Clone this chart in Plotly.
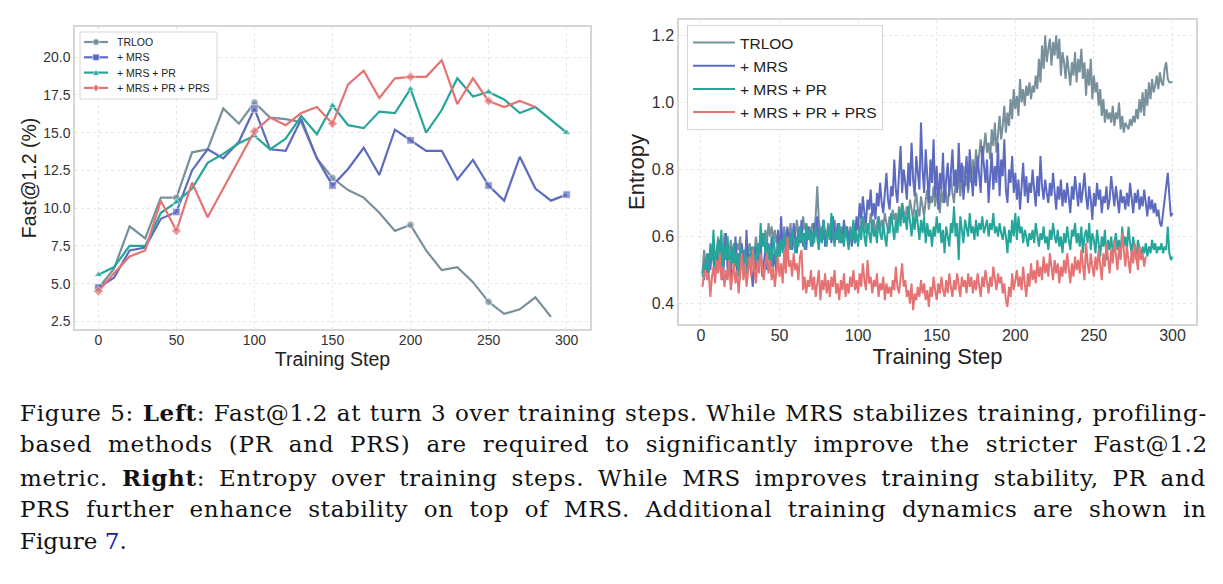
import plotly.graph_objects as go

# ---------------- Left: Fast@1.2 ----------------
steps_left = list(range(0, 301, 10))
fast_trloo = [4.7, 6.0, 8.8, 8.0, 10.7, 10.7, 13.7, 13.9, 16.6, 15.6, 17.0, 16.0, 15.9, 15.7,
              13.3, 12.0, 11.2, 10.7, 9.7, 8.5, 8.9, 7.2, 5.9, 6.1, 5.1, 3.8, 3.0, 3.3, 4.1, 2.8]
fast_mrs = [4.75, 5.4, 7.2, 7.4, 9.3, 9.75, 12.5, 13.9, 13.3, 14.4, 16.6, 13.9, 13.8, 15.9,
            13.3, 11.5, 12.6, 14.0, 12.2, 15.2, 14.5, 13.8, 13.8, 11.9, 13.2, 11.5, 10.5, 13.4,
            11.3, 10.5, 10.9]
fast_mrs_pr = [5.6, 6.1, 7.5, 7.5, 9.7, 10.4, 11.3, 13.0, 13.6, 14.3, 14.8, 13.9, 14.6, 16.1,
               14.9, 16.8, 15.5, 15.3, 16.4, 16.3, 17.9, 15.0, 16.5, 18.6, 17.4, 17.7, 17.2,
               16.3, 16.7, 15.85, 15.0]
fast_mrs_pr_prs = [4.5, 5.7, 6.8, 7.2, 10.5, 8.5, 11.7, 9.4, 11.3, 13.2, 15.1, 16.0, 15.5, 16.3,
                   16.7, 15.6, 18.2, 19.1, 17.3, 18.6, 18.7, 18.7, 19.8, 16.9, 18.6, 17.1, 16.7,
                   17.1, 16.7]

# ---------------- Right: Entropy ----------------
ent_trloo = [
    0.49, 0.56, 0.52, 0.54, 0.50, 0.55, 0.53, 0.58, 0.52, 0.56,
    0.60, 0.54, 0.58, 0.55, 0.61, 0.53, 0.57, 0.55, 0.59, 0.54,
    0.57, 0.52, 0.58, 0.56, 0.60, 0.53, 0.56, 0.54, 0.59, 0.55,
    0.58, 0.54, 0.57, 0.55, 0.60, 0.56, 0.58, 0.55, 0.61, 0.57,
    0.62, 0.58, 0.64, 0.60, 0.63, 0.59, 0.62, 0.58, 0.61, 0.57,
    0.60, 0.58, 0.63, 0.59, 0.62, 0.60, 0.64, 0.58, 0.62, 0.60,
    0.65, 0.61, 0.63, 0.59, 0.66, 0.62, 0.64, 0.60, 0.63, 0.61,
    0.64, 0.62, 0.66, 0.75, 0.65, 0.61, 0.63, 0.59, 0.62, 0.60,
    0.64, 0.61, 0.63, 0.59, 0.65, 0.60, 0.62, 0.58, 0.63, 0.61,
    0.64, 0.60, 0.62, 0.59, 0.63, 0.61, 0.60, 0.58, 0.62, 0.64,
    0.60, 0.65, 0.62, 0.66, 0.61, 0.64, 0.62, 0.67, 0.63, 0.65,
    0.61, 0.64, 0.66, 0.62, 0.65, 0.63, 0.67, 0.64, 0.62, 0.66,
    0.64, 0.68, 0.65, 0.67, 0.63, 0.69, 0.66, 0.70, 0.67, 0.65,
    0.69, 0.66, 0.71, 0.68, 0.65, 0.70, 0.73, 0.68, 0.66, 0.72,
    0.69, 0.66, 0.71, 0.74, 0.68, 0.72, 0.70, 0.75, 0.69, 0.73,
    0.71, 0.67, 0.74, 0.70, 0.76, 0.72, 0.69, 0.75, 0.78, 0.73,
    0.70, 0.76, 0.74, 0.79, 0.72, 0.77, 0.81, 0.75, 0.78, 0.73,
    0.80, 0.76, 0.83, 0.78, 0.86, 0.80, 0.84, 0.89, 0.82, 0.87,
    0.91, 0.85, 0.88, 0.83, 0.92, 0.87, 0.94, 0.85, 0.90, 0.96,
    0.89, 0.93, 0.99, 0.91, 0.97, 0.93, 1.01, 0.95, 1.04, 0.98,
    1.02, 0.96, 1.07, 1.00, 1.04, 0.99, 1.05, 1.02, 1.06, 1.01,
    1.05, 1.03, 1.08, 1.04, 1.13, 1.06, 1.17, 1.10, 1.20, 1.12,
    1.16, 1.19, 1.11, 1.18, 1.14, 1.20, 1.13, 1.19, 1.08, 1.15,
    1.12, 1.07, 1.14, 1.10, 1.05, 1.12, 1.08, 1.15, 1.06, 1.13,
    1.09, 1.16, 1.07, 1.12, 1.02, 1.10, 1.05, 1.13, 1.01, 1.08,
    1.03, 1.06, 0.99, 1.04, 0.96, 1.01, 0.94, 0.98, 0.95, 0.97,
    0.94, 0.99, 0.93, 0.97, 0.95, 1.00, 0.92, 0.96, 0.91, 0.94,
    0.93, 0.92, 0.95, 0.93, 0.96, 0.94, 0.98, 0.95, 1.01, 0.97,
    1.03, 0.96, 1.04, 0.99, 1.06, 1.01, 1.07, 1.03, 1.05, 1.08,
    1.04, 1.09, 1.06, 1.05, 1.10, 1.12, 1.07, 1.06, 1.06, 1.06]
ent_mrs = [
    0.50, 0.47, 0.53, 0.49, 0.55, 0.50, 0.57, 0.52, 0.48, 0.56,
    0.51, 0.59, 0.53, 0.47, 0.55, 0.61, 0.50, 0.54, 0.48, 0.57,
    0.52, 0.60, 0.49, 0.55, 0.51, 0.58, 0.53, 0.48, 0.62, 0.51,
    0.55, 0.49, 0.45, 0.53, 0.57, 0.50, 0.54, 0.59, 0.48, 0.52,
    0.56, 0.50, 0.58, 0.53, 0.60, 0.51, 0.55, 0.49, 0.62, 0.54,
    0.66, 0.57, 0.60, 0.55, 0.63, 0.58, 0.61, 0.56, 0.64, 0.59,
    0.55, 0.62, 0.58, 0.65, 0.57, 0.61, 0.56, 0.63, 0.59, 0.62,
    0.57, 0.64, 0.60, 0.66, 0.58, 0.62, 0.59, 0.65, 0.57, 0.61,
    0.60, 0.63, 0.58, 0.66, 0.61, 0.59, 0.64, 0.60, 0.62, 0.58,
    0.65, 0.60, 0.63, 0.59, 0.61, 0.57, 0.64, 0.60, 0.66, 0.62,
    0.70, 0.65, 0.72, 0.67, 0.64, 0.71, 0.68, 0.74, 0.66, 0.70,
    0.65, 0.73, 0.69, 0.76, 0.70, 0.67, 0.74, 0.79, 0.71, 0.68,
    0.75, 0.72, 0.83, 0.74, 0.70, 0.78, 0.87, 0.73, 0.80, 0.76,
    0.71, 0.82, 0.75, 0.88, 0.77, 0.72, 0.84, 0.79, 0.74, 0.94,
    0.80, 0.73, 0.86, 0.78, 0.70, 0.83, 0.76, 0.89, 0.72, 0.81,
    0.68, 0.79, 0.74, 0.85, 0.70, 0.77, 0.82, 0.72, 0.78, 0.86,
    0.75, 0.80, 0.73, 0.88, 0.76, 0.82, 0.71, 0.79, 0.84, 0.74,
    0.86, 0.78, 0.72, 0.81, 0.75, 0.84, 0.79, 0.73, 0.87, 0.80,
    0.76, 0.83, 0.70, 0.78, 0.85, 0.74, 0.81, 0.76, 0.88, 0.72,
    0.83, 0.78, 0.89, 0.74, 0.70, 0.80, 0.76, 0.84, 0.73, 0.79,
    0.71, 0.77, 0.68, 0.75, 0.82, 0.72, 0.78, 0.70, 0.76, 0.73,
    0.80, 0.74, 0.69, 0.78, 0.72, 0.84, 0.75, 0.71, 0.77, 0.73,
    0.70, 0.76, 0.72, 0.79, 0.74, 0.68, 0.75, 0.71, 0.77, 0.69,
    0.74, 0.70, 0.76, 0.72, 0.67, 0.75, 0.71, 0.78, 0.73, 0.69,
    0.76, 0.70, 0.74, 0.79, 0.72, 0.68, 0.75, 0.71, 0.65, 0.73,
    0.69, 0.76, 0.71, 0.74, 0.67, 0.72, 0.70, 0.75, 0.68, 0.71,
    0.78, 0.73, 0.69, 0.75, 0.71, 0.67, 0.74, 0.70, 0.72, 0.68,
    0.73, 0.69, 0.76, 0.71, 0.67, 0.73, 0.70, 0.74, 0.68, 0.72,
    0.69, 0.74, 0.70, 0.66, 0.72, 0.68, 0.71, 0.67, 0.70, 0.66,
    0.68, 0.64, 0.63, 0.67, 0.71, 0.76, 0.79, 0.72, 0.66, 0.67]
ent_mrs_pr = [
    0.48, 0.52, 0.50, 0.55, 0.49, 0.58, 0.53, 0.62, 0.51, 0.56,
    0.59, 0.52, 0.62, 0.50, 0.57, 0.53, 0.60, 0.49, 0.56, 0.52,
    0.58, 0.51, 0.55, 0.48, 0.57, 0.53, 0.50, 0.56, 0.47, 0.54,
    0.51, 0.57, 0.52, 0.55, 0.50, 0.58, 0.54, 0.64, 0.57, 0.61,
    0.55, 0.59, 0.53, 0.57, 0.51, 0.60, 0.55, 0.52, 0.58, 0.54,
    0.59, 0.55, 0.61, 0.57, 0.53, 0.60, 0.56, 0.62, 0.58, 0.55,
    0.60, 0.57, 0.63, 0.58, 0.61, 0.56, 0.64, 0.59, 0.62, 0.57,
    0.61, 0.58, 0.63, 0.60, 0.56, 0.62, 0.58, 0.65, 0.60, 0.57,
    0.63, 0.59, 0.67, 0.61, 0.57, 0.62, 0.59, 0.64, 0.58, 0.61,
    0.57, 0.63, 0.60, 0.56, 0.62, 0.59, 0.65, 0.58, 0.61, 0.57,
    0.63, 0.59, 0.66, 0.60, 0.57, 0.64, 0.61, 0.58, 0.65, 0.60,
    0.62, 0.58, 0.66, 0.61, 0.59, 0.64, 0.60, 0.57, 0.63, 0.61,
    0.67, 0.62, 0.59, 0.65, 0.61, 0.68, 0.63, 0.70, 0.64, 0.66,
    0.62, 0.69, 0.64, 0.60, 0.66, 0.62, 0.68, 0.63, 0.59, 0.65,
    0.61, 0.66, 0.58, 0.64, 0.60, 0.62, 0.57, 0.63, 0.60, 0.66,
    0.61, 0.64, 0.58, 0.62, 0.55, 0.63, 0.60, 0.57, 0.64, 0.61,
    0.69, 0.60, 0.64, 0.53, 0.66, 0.61, 0.58, 0.65, 0.62, 0.60,
    0.67, 0.61, 0.63, 0.59, 0.65, 0.60, 0.64, 0.62, 0.66, 0.61,
    0.63, 0.65, 0.60, 0.64, 0.62, 0.67, 0.61, 0.63, 0.60, 0.64,
    0.61, 0.59, 0.63, 0.60, 0.55, 0.62, 0.58, 0.65, 0.60, 0.67,
    0.59, 0.66, 0.61, 0.63, 0.58, 0.62, 0.60, 0.57, 0.61, 0.59,
    0.62, 0.58, 0.64, 0.60, 0.57, 0.61, 0.59, 0.63, 0.58, 0.60,
    0.56, 0.62, 0.59, 0.64, 0.60, 0.58, 0.62, 0.57, 0.60, 0.55,
    0.61, 0.58, 0.63, 0.59, 0.56, 0.62, 0.60, 0.64, 0.58, 0.61,
    0.57, 0.63, 0.55, 0.60, 0.62, 0.58, 0.64, 0.56, 0.61, 0.59,
    0.55, 0.62, 0.58, 0.54, 0.60, 0.57, 0.62, 0.53, 0.59, 0.56,
    0.60, 0.55, 0.58, 0.61, 0.56, 0.59, 0.54, 0.63, 0.57, 0.60,
    0.56, 0.63, 0.58, 0.55, 0.60, 0.57, 0.53, 0.59, 0.56, 0.54,
    0.57, 0.55, 0.58, 0.54, 0.57, 0.55, 0.59, 0.56, 0.58, 0.55,
    0.57, 0.56, 0.58, 0.55, 0.57, 0.56, 0.63, 0.55, 0.53, 0.54]
ent_mrs_pr_prs = [
    0.45, 0.49, 0.50, 0.47, 0.49, 0.42, 0.48, 0.51, 0.46, 0.53,
    0.49, 0.55, 0.47, 0.51, 0.45, 0.50, 0.47, 0.53, 0.44, 0.49,
    0.52, 0.46, 0.50, 0.43, 0.48, 0.55, 0.47, 0.52, 0.45, 0.50,
    0.54, 0.48, 0.56, 0.50, 0.46, 0.53, 0.49, 0.55, 0.51, 0.47,
    0.52, 0.55, 0.49, 0.53, 0.47, 0.51, 0.45, 0.50, 0.54, 0.48,
    0.52, 0.46, 0.56, 0.49, 0.60, 0.51, 0.53, 0.48, 0.55, 0.50,
    0.52, 0.47, 0.54, 0.56, 0.44, 0.48, 0.43, 0.47, 0.45, 0.50,
    0.44, 0.48, 0.42, 0.46, 0.50, 0.41, 0.47, 0.44, 0.49, 0.43,
    0.47, 0.42, 0.48, 0.45, 0.50, 0.43, 0.46, 0.41, 0.47, 0.44,
    0.49, 0.42, 0.46, 0.43, 0.48, 0.45, 0.50, 0.44, 0.47, 0.43,
    0.49, 0.45, 0.52, 0.47, 0.44, 0.53, 0.46, 0.48, 0.43, 0.47,
    0.45, 0.49, 0.42, 0.46, 0.44, 0.48, 0.41, 0.46, 0.43, 0.45,
    0.42, 0.47, 0.44, 0.51, 0.45, 0.43, 0.48, 0.52, 0.45, 0.47,
    0.42, 0.44, 0.40, 0.46, 0.38, 0.43, 0.41, 0.45, 0.42, 0.47,
    0.43, 0.46, 0.41, 0.44, 0.39, 0.45, 0.42, 0.48, 0.44, 0.41,
    0.46, 0.43, 0.48, 0.44, 0.42, 0.47, 0.43, 0.49, 0.45, 0.42,
    0.47, 0.44, 0.49, 0.46, 0.42, 0.48, 0.45, 0.47, 0.43, 0.49,
    0.45, 0.48, 0.43, 0.47, 0.44, 0.49, 0.46, 0.42, 0.48, 0.45,
    0.50, 0.46, 0.43, 0.48, 0.45, 0.51, 0.47, 0.44, 0.49, 0.46,
    0.48, 0.43, 0.46, 0.41, 0.39, 0.45, 0.42, 0.49, 0.44, 0.47,
    0.50, 0.45, 0.48, 0.44, 0.51, 0.46, 0.42, 0.49, 0.45, 0.52,
    0.47, 0.50, 0.46, 0.53, 0.48, 0.51, 0.47, 0.54, 0.49, 0.52,
    0.48, 0.55, 0.50, 0.47, 0.53, 0.49, 0.52, 0.46, 0.51, 0.48,
    0.53, 0.49, 0.55, 0.50, 0.46, 0.52, 0.48, 0.54, 0.50, 0.53,
    0.49, 0.56, 0.51, 0.47, 0.58, 0.52, 0.49, 0.55, 0.51, 0.48,
    0.54, 0.50, 0.56, 0.52, 0.47, 0.55, 0.51, 0.58, 0.53, 0.49,
    0.56, 0.52, 0.59, 0.54, 0.50, 0.57, 0.53, 0.61, 0.55, 0.51,
    0.57, 0.53, 0.49, 0.56, 0.52, 0.58, 0.54, 0.50, 0.57, 0.53,
    0.55, 0.51, 0.54]

series_names = ["TRLOO", "+ MRS", "+ MRS + PR", "+ MRS + PR + PRS"]
colors = ["#78909C", "#5C6BC0", "#26A69A", "#E57373"]
symbols = ["circle", "square", "triangle-up", "diamond"]
marker_steps = [0, 50, 100, 150, 200, 250, 300]

caption_lines = [
    "Figure 5: <b>Left</b>: Fast@1.2 at turn 3 over training steps. While MRS stabilizes training, profiling-",
    "based methods (PR and PRS) are required to significantly improve the stricter Fast@1.2",
    "metric. <b>Right</b>: Entropy over training steps. While MRS improves training stability, PR and",
    "PRS further enhance stability on top of MRS. Additional training dynamics are shown in",
    "Figure <span style='color:#1a1aa6'>7</span>.",
]
# justification (word spacing in px) per caption line
caption_word_spacing = [0.6, 8.0, 5.8, 7.5, 0]

W, H = 1223, 584
def px_x(p):
    return p / W
def px_y(p):
    return 1 - p / H

fig = go.Figure()

left_series = [fast_trloo, fast_mrs, fast_mrs_pr, fast_mrs_pr_prs]
for name, vals, col, sym in zip(series_names, left_series, colors, symbols):
    xs = steps_left[:len(vals)]
    sizes = [7.5 if s in marker_steps else 0 for s in xs]
    fig.add_trace(go.Scatter(
        x=xs, y=vals, mode="lines+markers", name=name, showlegend=False,
        line=dict(color=col, width=2.2),
        marker=dict(symbol=sym, size=sizes, color=col, line=dict(color="white", width=0.8)),
        xaxis="x", yaxis="y"))

right_series = [ent_trloo, ent_mrs, ent_mrs_pr, ent_mrs_pr_prs]
for name, vals, col in zip(series_names, right_series, colors):
    xs = list(range(1, len(vals) + 1))
    fig.add_trace(go.Scatter(
        x=xs, y=vals, mode="lines", name=name, legend="legend2",
        line=dict(color=col, width=2.0),
        xaxis="x2", yaxis="y2"))

font_family = "Liberation Sans, Arial, sans-serif"
axis_common = dict(
    showline=True, mirror=True, linecolor="#d6d6d6", linewidth=1.5,
    showgrid=True, gridcolor="#e8e8e8", griddash="dot", gridwidth=1,
    zeroline=False, ticks="",
)

fig.update_layout(
    width=W, height=H, margin=dict(l=0, r=0, t=0, b=0),
    paper_bgcolor="white", plot_bgcolor="white",
    font=dict(family=font_family, color="#222222"),
    showlegend=True,
    xaxis=dict(axis_common, domain=[px_x(75), px_x(590)], range=[-15, 315],
               tickvals=[0, 50, 100, 150, 200, 250, 300], anchor="y", ticklabelstandoff=-3,
               tickfont=dict(family=font_family, size=14, color="#333333"),
               title=dict(text="Training Step", font=dict(size=19.5, color="#222222"), standoff=0)),
    yaxis=dict(axis_common, domain=[px_y(329), px_y(27)], range=[2.0, 22.0],
               tickvals=[2.5, 5, 7.5, 10, 12.5, 15, 17.5, 20], tickformat=".1f", anchor="x",
               tickfont=dict(family=font_family, size=14, color="#333333"),
               title=dict(text="Fast@1.2 (%)", font=dict(size=19.5, color="#222222"), standoff=1)),
    xaxis2=dict(axis_common, domain=[px_x(679), px_x(1196)], range=[-13.95, 314.95],
                tickvals=[0, 50, 100, 150, 200, 250, 300], anchor="y2", ticklabelstandoff=-4,
                tickfont=dict(family=font_family, size=16, color="#333333"),
                title=dict(text="Training Step", font=dict(size=22, color="#222222"), standoff=0)),
    yaxis2=dict(axis_common, domain=[px_y(324), px_y(20)], range=[0.339, 1.246],
                tickvals=[0.4, 0.6, 0.8, 1.0, 1.2], tickformat=".1f", anchor="x2",
                tickfont=dict(family=font_family, size=16, color="#333333"),
                title=dict(text="Entropy", font=dict(size=22, color="#222222"), standoff=1)),
    legend2=dict(x=px_x(687), y=px_y(25), xanchor="left", yanchor="top",
                 bgcolor="white", bordercolor="#d6d6d6", borderwidth=1,
                 font=dict(family=font_family, size=15.5, color="#222222"),
                 tracegroupgap=0, itemwidth=42),
)

# ---- left legend (drawn as decoration: box, line samples, marker glyphs, labels) ----
shapes = [dict(type="rect", xref="paper", yref="paper",
               x0=px_x(80), x1=px_x(217), y0=px_y(32), y1=px_y(99),
               fillcolor="white", line=dict(color="#d6d6d6", width=1), layer="above")]
item_y = [42, 57.3, 72.6, 87.9]
for name, col, sym, yy in zip(series_names, colors, symbols, item_y):
    shapes.append(dict(type="line", xref="paper", yref="paper",
                       x0=px_x(84), x1=px_x(108), y0=px_y(yy), y1=px_y(yy),
                       line=dict(color=col, width=2.2), layer="above"))
    cx, r = 96, 3.2
    if sym == "circle":
        shapes.append(dict(type="circle", xref="paper", yref="paper",
                           x0=px_x(cx - r), x1=px_x(cx + r), y0=px_y(yy + r), y1=px_y(yy - r),
                           fillcolor=col, line=dict(color="white", width=0.6), layer="above"))
    elif sym == "square":
        shapes.append(dict(type="rect", xref="paper", yref="paper",
                           x0=px_x(cx - r), x1=px_x(cx + r), y0=px_y(yy + r), y1=px_y(yy - r),
                           fillcolor=col, line=dict(color="white", width=0.6), layer="above"))
    elif sym == "triangle-up":
        path = "M {},{} L {},{} L {},{} Z".format(
            px_x(cx), px_y(yy - r), px_x(cx - r), px_y(yy + r * 0.8), px_x(cx + r), px_y(yy + r * 0.8))
        shapes.append(dict(type="path", xref="paper", yref="paper", path=path,
                           fillcolor=col, line=dict(color="white", width=0.6), layer="above"))
    else:
        path = "M {},{} L {},{} L {},{} L {},{} Z".format(
            px_x(cx), px_y(yy - r * 1.2), px_x(cx + r), px_y(yy), px_x(cx), px_y(yy + r * 1.2), px_x(cx - r), px_y(yy))
        shapes.append(dict(type="path", xref="paper", yref="paper", path=path,
                           fillcolor=col, line=dict(color="white", width=0.6), layer="above"))
    fig.add_annotation(text=name, xref="paper", yref="paper", x=px_x(115), y=px_y(yy),
                       xanchor="left", yanchor="middle", showarrow=False,
                       font=dict(family=font_family, size=10.5, color="#222222"))
fig.update_layout(shapes=shapes)

line_y = [412, 444, 477, 509, 541]
for txt, yy, ws in zip(caption_lines, line_y, caption_word_spacing):
    styled = "<span style='letter-spacing:0.7px;word-spacing:{}px'>{}</span>".format(ws, txt) if ws else txt
    fig.add_annotation(
        text=styled, xref="paper", yref="paper", x=px_x(18), y=px_y(yy),
        xanchor="left", yanchor="middle", showarrow=False,
        font=dict(family="DejaVu Serif, serif", size=23, color="#111111"))

fig.write_html("out.html")
